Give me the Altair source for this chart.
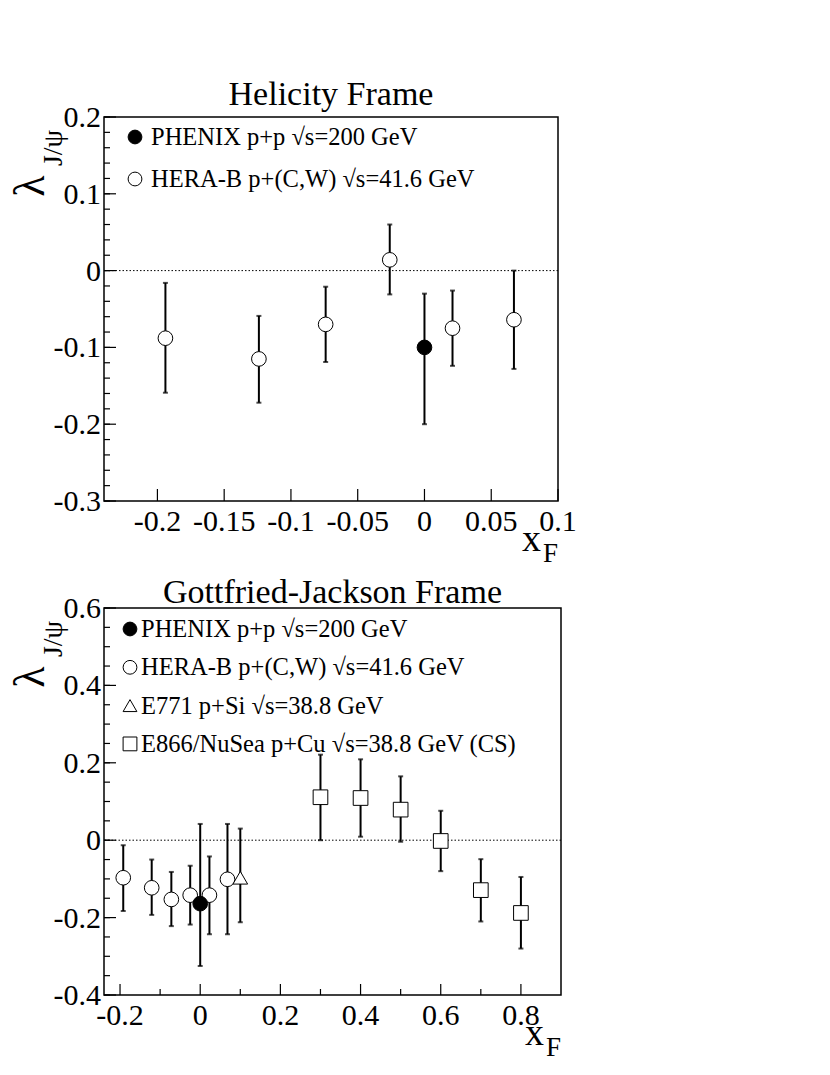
import altair as alt
import pandas as pd

FONT = "Liberation Serif"

# ---------------- data ----------------
series_names = [
    "PHENIX p+p √s=200 GeV",
    "HERA-B p+(C,W) √s=41.6 GeV",
    "E771 p+Si √s=38.8 GeV",
    "E866/NuSea p+Cu √s=38.8 GeV (CS)",
]
series_shapes = ["circle", "circle", "triangle-up", "square"]
series_fills = ["black", "white", "white", "white"]

# Helicity frame
hel_phenix_x = [0.0]
hel_phenix_y = [-0.100]
hel_phenix_lo = [-0.200]
hel_phenix_hi = [-0.030]

hel_herab_x = [-0.194, -0.124, -0.074, -0.026, 0.021, 0.067]
hel_herab_y = [-0.088, -0.115, -0.070, 0.014, -0.075, -0.064]
hel_herab_lo = [-0.159, -0.172, -0.119, -0.031, -0.124, -0.128]
hel_herab_hi = [-0.016, -0.059, -0.021, 0.060, -0.026, 0.000]

# Gottfried-Jackson frame
gj_phenix_x = [0.0]
gj_phenix_y = [-0.164]
gj_phenix_lo = [-0.325]
gj_phenix_hi = [0.042]

gj_herab_x = [-0.192, -0.121, -0.072, -0.025, 0.023, 0.068]
gj_herab_y = [-0.097, -0.123, -0.153, -0.142, -0.142, -0.101]
gj_herab_lo = [-0.183, -0.193, -0.222, -0.218, -0.243, -0.243]
gj_herab_hi = [-0.013, -0.050, -0.082, -0.066, -0.042, 0.042]

gj_e771_x = [0.10]
gj_e771_y = [-0.097]
gj_e771_lo = [-0.212]
gj_e771_hi = [0.030]

gj_e866_x = [0.3, 0.4, 0.5, 0.6, 0.7, 0.8]
gj_e866_y = [0.111, 0.109, 0.079, -0.002, -0.129, -0.188]
gj_e866_lo = [0.000, 0.009, -0.004, -0.080, -0.210, -0.280]
gj_e866_hi = [0.221, 0.209, 0.165, 0.076, -0.049, -0.095]

# axes
hel_title = "Helicity Frame"
gj_title = "Gottfried-Jackson Frame"
hel_xdomain = [-0.24, 0.1]
hel_ydomain = [-0.3, 0.2]
hel_xmajor = [-0.2, -0.15, -0.1, -0.05, 0, 0.05, 0.1]
hel_xlabels = ["-0.2", "-0.15", "-0.1", "-0.05", "0", "0.05", "0.1"]
hel_xminor = []
hel_ymajor = [-0.3, -0.2, -0.1, 0, 0.1, 0.2]
hel_ylabels = ["-0.3", "-0.2", "-0.1", "0", "0.1", "0.2"]
hel_yminor = [round(-0.3 + 0.02 * i, 2) for i in range(26)]

gj_xdomain = [-0.24, 0.9]
gj_ydomain = [-0.4, 0.6]
gj_xmajor = [-0.2, 0, 0.2, 0.4, 0.6, 0.8]
gj_xlabels = ["-0.2", "0", "0.2", "0.4", "0.6", "0.8"]
gj_xminor = [-0.1, 0.1, 0.3, 0.5, 0.7]
gj_ymajor = [-0.4, -0.2, 0, 0.2, 0.4, 0.6]
gj_ylabels = ["-0.4", "-0.2", "0", "0.2", "0.4", "0.6"]
gj_yminor = [round(-0.4 + 0.05 * i, 2) for i in range(21)]

ylab_main = "λ"
ylab_sub = "J/ψ"
xlab_main = "x"
xlab_sub = "F"


def frame(names, xs, ys, los, his):
    rows = []
    for n, X, Y, L, Hh in zip(names, xs, ys, los, his):
        for a, b, c, d in zip(X, Y, L, Hh):
            rows.append({"series": n, "x": a, "y": b, "lo": c, "hi": d})
    return pd.DataFrame(rows)


hel_df = frame(
    [series_names[1], series_names[0]],
    [hel_herab_x, hel_phenix_x],
    [hel_herab_y, hel_phenix_y],
    [hel_herab_lo, hel_phenix_lo],
    [hel_herab_hi, hel_phenix_hi],
)
gj_df = frame(
    [series_names[1], series_names[2], series_names[3], series_names[0]],
    [gj_herab_x, gj_e771_x, gj_e866_x, gj_phenix_x],
    [gj_herab_y, gj_e771_y, gj_e866_y, gj_phenix_y],
    [gj_herab_lo, gj_e771_lo, gj_e866_lo, gj_phenix_lo],
    [gj_herab_hi, gj_e771_hi, gj_e866_hi, gj_phenix_hi],
)


def panel(df, title, title_dy, W, H, xdom, ydom, xmaj, xlabs, xmin, ymaj, ylabs, ymin, nser,
          leg_x, leg_tx, leg_y0, leg_dy, xmaj_len, xmin_len):
    xs = alt.Scale(domain=xdom, nice=False, zero=False)
    ys = alt.Scale(domain=ydom, nice=False, zero=False)
    sdom = series_names[:nser]

    layers = []

    # tick marks inside the frame (ROOT style)
    def xticks(vals, ln):
        return alt.Chart(pd.DataFrame({"t": vals})).mark_rule(color="black", strokeWidth=1.2).encode(
            x=alt.X("t:Q", scale=xs, axis=None), y=alt.value(H), y2=alt.value(H - ln))

    def yticks(vals, ln):
        return alt.Chart(pd.DataFrame({"t": vals})).mark_rule(color="black", strokeWidth=1.2).encode(
            y=alt.Y("t:Q", scale=ys, axis=None), x=alt.value(0), x2=alt.value(ln))

    layers.append(xticks(xmaj, xmaj_len))
    if xmin:
        layers.append(xticks(xmin, xmin_len))
    layers.append(yticks(ymaj, 12))
    layers.append(yticks(ymin, 6))

    # tick labels
    layers.append(alt.Chart(pd.DataFrame({"t": xmaj, "lab": xlabs})).mark_text(
        font=FONT, fontSize=30, align="center", baseline="alphabetic", color="black").encode(
        x=alt.X("t:Q", scale=xs, axis=None), y=alt.value(H + 30), text="lab:N"))
    layers.append(alt.Chart(pd.DataFrame({"t": ymaj, "lab": ylabs})).mark_text(
        font=FONT, fontSize=30, align="right", baseline="alphabetic", color="black", dy=10).encode(
        y=alt.Y("t:Q", scale=ys, axis=None), x=alt.value(-3), text="lab:N"))

    zero = alt.Chart(pd.DataFrame({"v": [0.0]})).mark_rule(
        color="black", strokeDash=[1.5, 2], strokeWidth=1
    ).encode(y=alt.Y("v:Q", scale=ys, axis=None))
    layers.append(zero)

    base = alt.Chart(df)
    bars = base.mark_rule(color="black", strokeWidth=2).encode(
        x=alt.X("x:Q", scale=xs, axis=None),
        y=alt.Y("lo:Q", scale=ys, axis=None),
        y2="hi:Q",
    )
    caps_lo = base.mark_tick(orient="horizontal", size=5, thickness=2, color="black").encode(
        x=alt.X("x:Q", scale=xs, axis=None),
        y=alt.Y("lo:Q", scale=ys, axis=None),
    )
    caps_hi = base.mark_tick(orient="horizontal", size=5, thickness=2, color="black").encode(
        x=alt.X("x:Q", scale=xs, axis=None),
        y=alt.Y("hi:Q", scale=ys, axis=None),
    )
    pts = base.mark_point(filled=True, size=215, stroke="black", strokeWidth=1, opacity=1).encode(
        x=alt.X("x:Q", scale=xs, axis=None),
        y=alt.Y("y:Q", scale=ys, axis=None),
        shape=alt.Shape("series:N", scale=alt.Scale(domain=series_names, range=series_shapes), legend=None),
        fill=alt.Fill("series:N", scale=alt.Scale(domain=series_names, range=series_fills), legend=None),
    )
    layers += [bars, caps_lo, caps_hi, pts]

    # legend (inside the frame, top-left)
    for i, name in enumerate(sdom):
        ld = alt.Chart(pd.DataFrame({"series": [name]}))
        layers.append(ld.mark_point(filled=True, shape=series_shapes[i], fill=series_fills[i],
                                    stroke="black", strokeWidth=1, size=190, opacity=1).encode(
            x=alt.value(leg_x), y=alt.value(leg_y0 + i * leg_dy)))
        layers.append(ld.mark_text(font=FONT, fontSize=24.5, align="left", baseline="middle",
                                   color="black").encode(
            text="series:N", x=alt.value(leg_tx), y=alt.value(leg_y0 + i * leg_dy + 1)))

    # axis titles
    txt_df = pd.DataFrame({"a": [ylab_main], "b": [ylab_sub], "c": [xlab_main], "d": [xlab_sub]})
    tb = alt.Chart(txt_df)
    layers.append(tb.mark_text(font=FONT, fontSize=44, angle=270, align="center",
                               baseline="alphabetic", color="black").encode(
        text="a:N", x=alt.value(-60), y=alt.value(69)))
    layers.append(tb.mark_text(font=FONT, fontSize=28, angle=270, align="center",
                               baseline="alphabetic", color="black").encode(
        text="b:N", x=alt.value(-42), y=alt.value(31)))
    layers.append(tb.mark_text(font=FONT, fontSize=38, align="left",
                               baseline="alphabetic", color="black").encode(
        text="c:N", x=alt.value(W - 36), y=alt.value(H + 50)))
    layers.append(tb.mark_text(font=FONT, fontSize=27, align="left",
                               baseline="alphabetic", color="black").encode(
        text="d:N", x=alt.value(W - 15), y=alt.value(H + 61)))

    return alt.layer(*layers).properties(
        width=W, height=H,
        title=alt.Title(title, font=FONT, fontSize=34, fontWeight="normal", color="black",
                        offset=0, dy=title_dy, frame="group", anchor="middle"),
    )


top = panel(hel_df, hel_title, 9, 454, 384, hel_xdomain, hel_ydomain, hel_xmajor, hel_xlabels,
            hel_xminor, hel_ymajor, hel_ylabels, hel_yminor, 2, 31, 47, 20, 42, 12, 6)
bottom = panel(gj_df, gj_title, 16, 457, 387, gj_xdomain, gj_ydomain, gj_xmajor, gj_xlabels,
               gj_xminor, gj_ymajor, gj_ylabels, gj_yminor, 4, 26, 37, 21, 38.3, 11, 6)

chart = alt.vconcat(top, bottom, spacing=7).resolve_scale(
    x="independent", y="independent"
).properties(
    padding={"left": 0, "top": 69, "right": 5, "bottom": 0},
    background="white",
).configure_view(
    stroke="black", strokeWidth=1.5
)

chart.save("out.html", embed_options={"renderer": "svg", "actions": False})
